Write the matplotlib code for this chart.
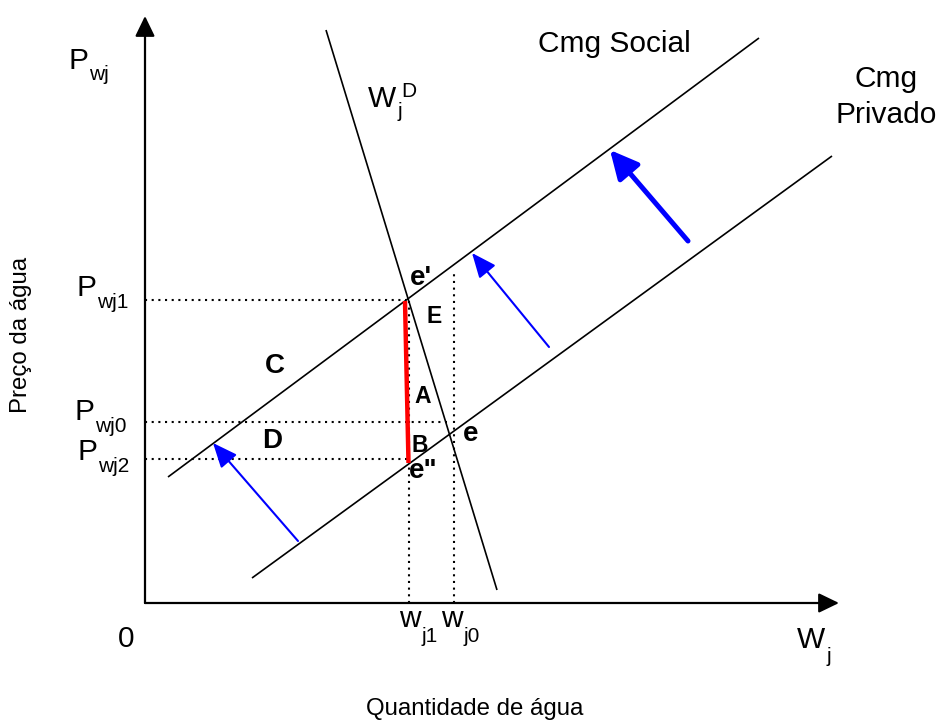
import matplotlib
matplotlib.use("Agg")
import matplotlib.pyplot as plt

plt.rcParams['font.family'] = ['Liberation Sans', 'DejaVu Sans']

# ---- data (diagram units: quantity q, price p) ----
cmg_social_q = [23, 614]
cmg_social_p = [126, 565]
cmg_privado_q = [107, 687]
cmg_privado_p = [25, 447]
demanda_q = [181, 352]
demanda_p = [573, 13]

p_wj1 = 303
p_wj0 = 181
p_wj2 = 144
w_j1 = 264
w_j0 = 309

red_q = [260, 263.5]
red_p = [302, 140]

# shift arrows: (tail q, tail p, tip q, tip p)
shift_arrows = [
    (153, 62, 68, 160),
    (404, 256, 327, 350),
]
shift_arrow_bold = (543, 362, 465, 453)

axis_x_end = 694
axis_y_end = 587

fig = plt.figure(figsize=(9.39, 7.24), dpi=100)
ax = fig.add_axes([0, 0, 1, 1])
ax.set_xlim(-145, 794)
ax.set_ylim(-121, 603)
ax.axis('off')

# axes with arrows
for end in [(0, axis_y_end), (axis_x_end, 0)]:
    ax.annotate('', xy=end, xytext=(0, 0),
                arrowprops=dict(arrowstyle='-|>,head_length=0.62,head_width=0.3',
                                mutation_scale=20, lw=1.6, color='black',
                                shrinkA=0, shrinkB=0))

# curves
ax.plot(cmg_social_q, cmg_social_p, color='black', lw=1.2, solid_capstyle='butt')
ax.plot(cmg_privado_q, cmg_privado_p, color='black', lw=1.2, solid_capstyle='butt')
ax.plot(demanda_q, demanda_p, color='black', lw=1.2, solid_capstyle='butt')

# dotted guides
dot = dict(color='black', lw=1.5, linestyle=(0, (1, 2.2)))
ax.plot([0, 261], [p_wj1, p_wj1], **dot)
ax.plot([0, 302], [p_wj0, p_wj0], **dot)
ax.plot([0, 263], [p_wj2, p_wj2], **dot)
ax.plot([w_j1, w_j1], [0, 302], **dot)
ax.plot([w_j0, w_j0], [0, 331], **dot)

# red segment
ax.plot(red_q, red_p, color='#ff0000', lw=3.2, solid_capstyle='butt')

# blue shift arrows
for tq, tp, hq, hp in shift_arrows:
    ax.annotate('', xy=(hq, hp), xytext=(tq, tp),
                arrowprops=dict(arrowstyle='-|>,head_length=0.75,head_width=0.32',
                                mutation_scale=20, lw=1.5, color='#0000ff',
                                shrinkA=0, shrinkB=0))
tq, tp, hq, hp = shift_arrow_bold
ax.annotate('', xy=(hq, hp), xytext=(tq, tp),
            arrowprops=dict(arrowstyle='-|>,head_length=0.85,head_width=0.42',
                            mutation_scale=20, lw=3.6, color='#0000ff',
                            shrinkA=0, shrinkB=0))

fs = 21.5
fsub = 15
renderer = fig.canvas.get_renderer()


def label(x, y, main, sub=None, sup=None, drop=12, rise=10, supfs=15):
    t = ax.text(x, y, main, fontsize=fs, ha='left', va='baseline')
    bb = t.get_window_extent(renderer=renderer)
    x1 = ax.transData.inverted().transform((bb.x1, bb.y0))[0]
    if sub:
        ax.text(x1 + 1, y - drop, sub, fontsize=fsub, ha='left', va='baseline')
    if sup:
        ax.text(x1 + 5, y + rise, sup, fontsize=supfs, ha='left', va='baseline')


label(-77, 534, 'P', 'wj', drop=11)
label(-69, 307, 'P', 'wj1')
label(-71, 183, 'P', 'wj0')
label(-68, 143, 'P', 'wj2')
label(254, -24, 'w', 'j1', drop=15)
label(296, -24, 'w', 'j0', drop=15)
label(652, -45, 'W', 'j', drop=14)
label(223, 496, 'W', 'j', sup='D', drop=10, rise=10)

ax.text(-19, -44, '0', fontsize=fs, ha='center', va='baseline')
ax.text(393, 551, 'Cmg Social', fontsize=fs, ha='left', va='baseline')
ax.text(741, 516, 'Cmg', fontsize=fs, ha='center', va='baseline')
ax.text(741, 480, 'Privado', fontsize=fs, ha='center', va='baseline')

ax.text(-124, 268, 'Preço da água', fontsize=17.3, rotation=90, ha='center', va='center')
ax.text(330, -112, 'Quantidade de água', fontsize=17.3, ha='center', va='baseline')

# bold region / point labels
fb = 20
fsm = 16.5
ax.text(265, 318, "e'", fontsize=fb, fontweight='bold', ha='left', va='baseline')
ax.text(289, 280, 'E', fontsize=fsm, fontweight='bold', ha='center', va='baseline')
ax.text(278, 200, 'A', fontsize=fsm, fontweight='bold', ha='center', va='baseline')
ax.text(275, 151, 'B', fontsize=fsm, fontweight='bold', ha='center', va='baseline')
ax.text(326, 162, 'e', fontsize=fb, fontweight='bold', ha='center', va='baseline')
ax.text(264, 125, 'e"', fontsize=fb, fontweight='bold', ha='left', va='baseline')
ax.text(130, 230, 'C', fontsize=fb, fontweight='bold', ha='center', va='baseline')
ax.text(127, 155, 'D', fontsize=fb, fontweight='bold', ha='center', va='baseline')

fig.savefig('out.png', dpi=100)
